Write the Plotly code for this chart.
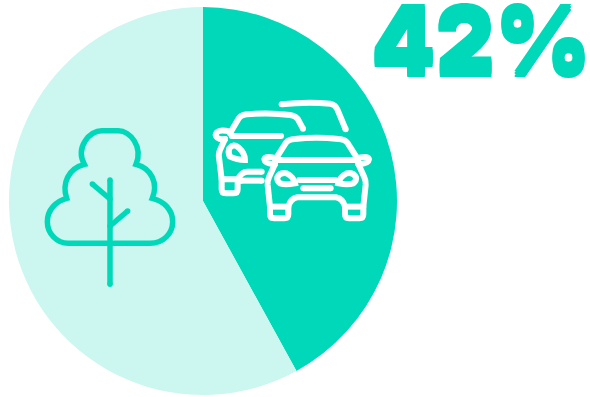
import re
import plotly.graph_objects as go

WIDTH, HEIGHT = 590, 397

# Share of emissions by source
labels = ["Traffic", "Trees"]
values = [42, 58]
colors = ["#00D9B9", "#CBF7F0"]

TEAL = "#00D9B9"
WHITE = "#FFFFFF"

# Icon outlines, in icon units (3 units = 1 px)
TREE = [
    "M115,370 L360,370 C400,370 428,340 428,305 C428,270 402,243 367,235 "
    "C385,190 365,145 318,133 C340,80 300,32 265,32 L215,32 C180,32 135,80 163,133 "
    "C115,145 95,190 110,235 C78,243 52,270 52,305 C52,340 80,370 115,370 Z",
    "M240,180 L240,493",
    "M187,192 L240,237",
    "M293,273 L240,318",
]
CARS = [
    # rear car
    "M245,43 Q320,35 390,41 Q406,44 412,58 L437,118",
    # middle car
    "M90,130 L115,87 Q122,75 140,73 Q210,67 270,75 Q290,78 296,92 L309,116",
    "M95,138 L243,138",
    "M90,125 Q50,115 47,135 Q50,150 75,147",
    "M75,147 L60,180 Q54,192 58,210 L65,268 L65,298 Q65,310 77,310 L101,310 "
    "Q113,310 113,298 L113,270",
    "M65,268 L113,268 Q125,245 142,245 L185,245",
    "M122,272 L185,272",
    "M88,175 Q83,190 90,200 Q110,210 135,210 Q135,190 115,172 Q100,160 88,175 Z",
    # front car
    "M228,205 L258,158 Q265,148 285,147 Q350,140 415,147 Q435,148 442,158 L472,205",
    "M225,210 L475,210",
    "M232,205 Q195,195 193,208 Q195,222 225,222",
    "M468,205 Q505,195 507,208 Q505,222 475,222",
    "M225,222 L207,262 Q202,272 203,285 L210,350 L210,373 Q210,385 222,385 L253,385 "
    "Q265,385 265,373 L265,350 Q272,325 292,322 L408,322 Q428,325 435,350 L435,373 "
    "Q435,385 447,385 L478,385 Q490,385 490,373 L490,350 L497,285 Q498,272 493,262 L475,222",
    "M210,350 L265,350",
    "M435,350 L490,350",
    "M232,262 Q240,245 260,250 Q280,260 285,280 Q255,285 240,280 Q230,272 232,262 Z",
    "M468,262 Q460,245 440,250 Q420,260 415,280 Q445,285 460,280 Q470,272 468,262 Z",
    "M298,270 L405,270",
    "M310,295 L392,295",
]

POINT = r"(-?[\d.]+),(-?[\d.]+)"


def to_paper(px, py):
    return px / WIDTH, 1 - py / HEIGHT


def place(path, ox, oy):
    """Convert an icon path to paper coordinates, with its origin at page pixel (ox, oy)."""
    def convert(match):
        x, y = to_paper(ox + float(match.group(1)) / 3, oy + float(match.group(2)) / 3)
        return f"{x:.5f},{y:.5f}"
    return re.sub(POINT, convert, path)


def round_caps(path, ox, oy, color, width):
    """Round dots for the two ends of an open stroke."""
    if path.endswith("Z"):
        return []
    points = re.findall(POINT, path)
    dots = []
    for ux, uy in (points[0], points[-1]):
        cx, cy = ox + float(ux) / 3, oy + float(uy) / 3
        x0, y0 = to_paper(cx - width / 2, cy - width / 2)
        x1, y1 = to_paper(cx + width / 2, cy + width / 2)
        dots.append(
            dict(
                type="circle",
                xref="paper",
                yref="paper",
                x0=x0,
                x1=x1,
                y0=y0,
                y1=y1,
                fillcolor=color,
                line=dict(width=0),
                layer="above",
            )
        )
    return dots


def icon_shapes(paths, ox, oy, color, width):
    shapes = []
    for p in paths:
        shapes.append(
            dict(
                type="path",
                xref="paper",
                yref="paper",
                path=place(p, ox, oy),
                line=dict(color=color, width=width),
                fillcolor="rgba(0,0,0,0)",
                layer="above",
            )
        )
        shapes.extend(round_caps(p, ox, oy, color, width))
    return shapes


fig = go.Figure(
    go.Pie(
        labels=labels,
        values=values,
        sort=False,
        direction="clockwise",
        rotation=0,
        marker=dict(colors=colors, line=dict(width=0)),
        textinfo="none",
        hoverinfo="skip",
        showlegend=False,
        domain=dict(x=[9 / WIDTH, 397 / WIDTH], y=[1 - 395 / HEIGHT, 1 - 7 / HEIGHT]),
    )
)

# The heading is made slightly taller with a tight vertical shadow
heading_shadow = ", ".join(f"0 {d}px 0 {TEAL}" for d in (-3, -1.5, 1.5, 3))

fig.update_layout(
    width=WIDTH,
    height=HEIGHT,
    margin=dict(l=0, r=0, t=0, b=0),
    paper_bgcolor="white",
    plot_bgcolor="white",
    shapes=icon_shapes(TREE, 30, 120, TEAL, 5.5) + icon_shapes(CARS, 200, 90, WHITE, 6),
    annotations=[
        dict(
            text=f"{values[0]}%",
            x=481 / WIDTH,
            y=1 - 40 / HEIGHT,
            xref="paper",
            yref="paper",
            xanchor="center",
            yanchor="middle",
            showarrow=False,
            font=dict(family="Inter", size=92, color=TEAL, weight=900, shadow=heading_shadow),
        )
    ],
)

fig.write_html("out.html")
